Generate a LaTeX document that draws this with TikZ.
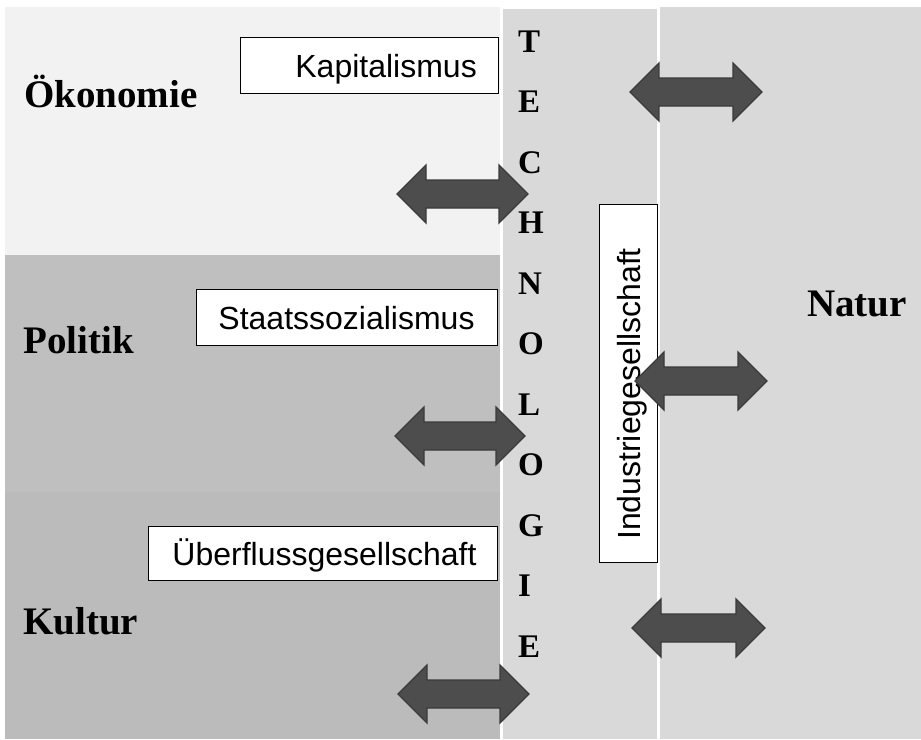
\documentclass[tikz,border=0pt]{standalone}
\usepackage{fontspec}
\setmainfont{Liberation Serif}
\newfontfamily\arialfont{Liberation Sans}
\definecolor{oek}{HTML}{F2F2F2}
\definecolor{pol}{HTML}{BFBFBF}
\definecolor{kul}{HTML}{BBBBBB}
\definecolor{tec}{HTML}{D9D9D9}
\definecolor{arrfill}{HTML}{4D4D4D}
\definecolor{arrline}{HTML}{3A3A3A}
\newcommand\DArrow[3]{%
  \draw[arr] ({#1-#3},#2) -- ({#1-#3+29},{#2-29}) -- ({#1-#3+29},{#2-14})
    -- ({#1+#3-29},{#2-14}) -- ({#1+#3-29},{#2-29}) -- ({#1+#3},#2)
    -- ({#1+#3-29},{#2+29}) -- ({#1+#3-29},{#2+14}) -- ({#1-#3+29},{#2+14})
    -- ({#1-#3+29},{#2+29}) -- cycle;}
\begin{document}
\begin{tikzpicture}[x=1pt,y=-1pt,
  box/.style={draw=black, line width=1pt, fill=white, inner sep=0pt},
  sans/.style={font=\arialfont\fontsize{32}{38}\selectfont, inner sep=0pt},
  big/.style={font=\bfseries\fontsize{39}{46}\selectfont, inner sep=0pt, anchor=base west},
  tech/.style={font=\bfseries\fontsize{33}{40}\selectfont, inner sep=0pt, anchor=base west},
  arr/.style={draw=arrline, fill=arrfill, line width=1.3pt, line join=miter}]
\useasboundingbox (0,0) rectangle (921,739);
\fill[white] (0,0) rectangle (921,739);
% panels
\fill[oek] (5,7) rectangle (500,255);
\fill[pol] (5,255) rectangle (500,492);
\fill[kul] (5,492) rectangle (500,739);
\fill[tec] (503,9) rectangle (657,739);
\fill[tec] (660,7) rectangle (921,739);
% labels
\node[big] (oekl) at (24,107) {Ökonomie};
\node[big] (poll) at (23,353) {Politik};
\node[big] (kull) at (23,634) {Kultur};
\node[big] (natl) at (807,316) {Natur};
% boxes
\node[box, minimum width=258, minimum height=56] (kapbox) at (369,65) {};
\node[sans, anchor=base east] (kap) at (477,77) {Kapitalismus};
\node[box, minimum width=301, minimum height=56] (stbox) at (346.5,317) {};
\node[sans, anchor=base] (st) at (346.5,329) {Staatssozialismus};
\node[box, minimum width=349, minimum height=54] (ubbox) at (322.5,553) {};
\node[sans, anchor=base] (ub) at (324.5,565) {Überflussgesellschaft};
\node[box, minimum width=58, minimum height=358] (inbox) at (628,383) {};
\node[sans, anchor=base, rotate=90] (in) at (640,394) {Industriegesellschaft};
% TECHNOLOGIE
\foreach \l [count=\i from 0] in {T,E,C,H,N,O,L,O,G,I,E}
  \node[tech] (t\i) at (518,{52+60.5*\i}) {\l};
% arrows
\DArrow{462.5}{194}{65.5}
\DArrow{460}{436}{65}
\DArrow{463.5}{694}{65.5}
\DArrow{696}{92}{66}
\DArrow{701}{381}{66}
\DArrow{698.5}{628}{66.5}
\end{tikzpicture}
\end{document}
